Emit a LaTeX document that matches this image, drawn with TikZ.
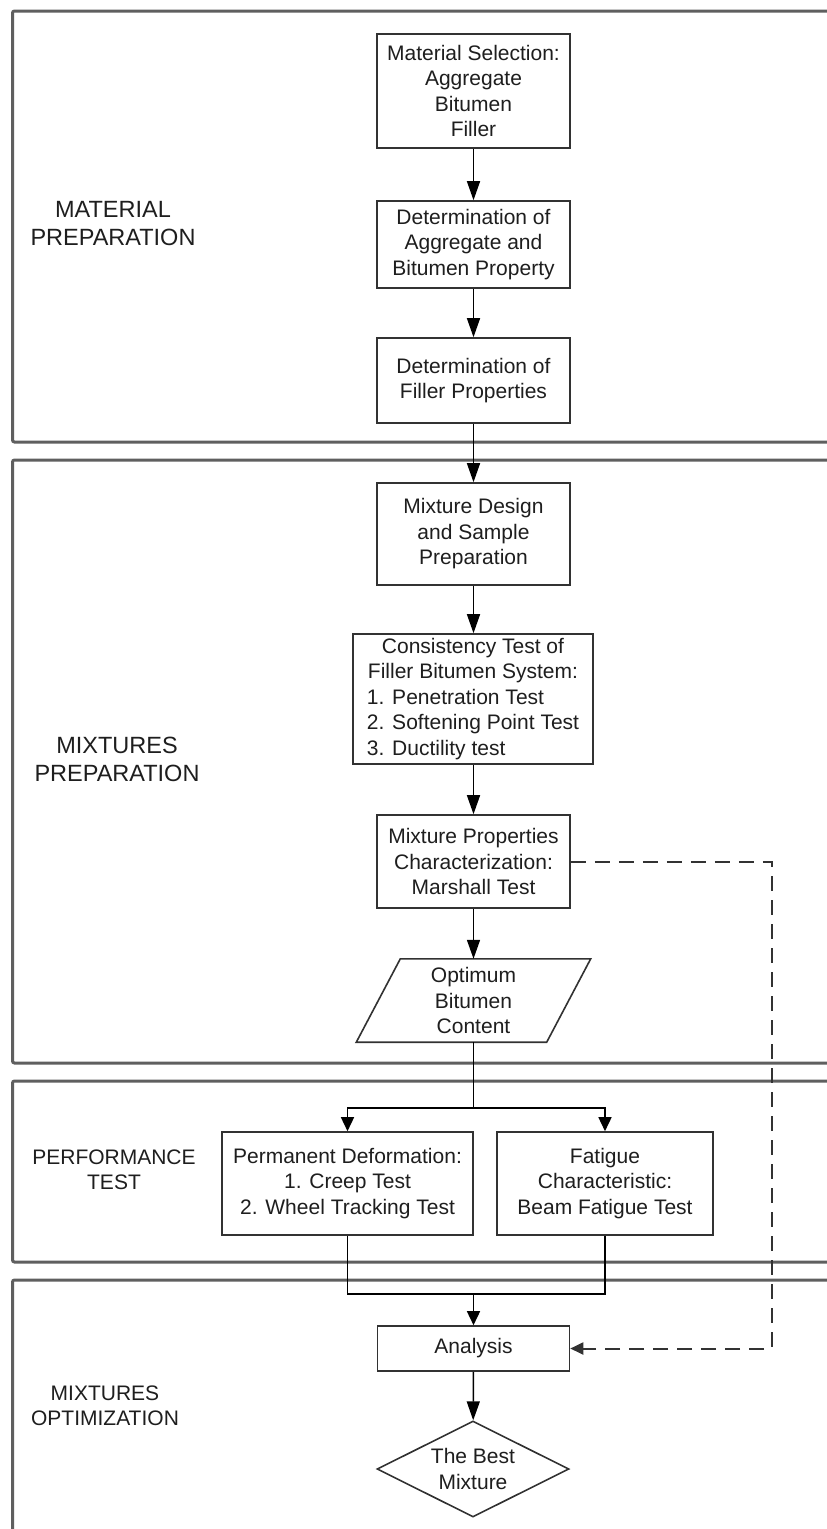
\documentclass[tikz,border=0pt]{standalone}
\usepackage{fontspec}
\setmainfont{Liberation Sans}
\usetikzlibrary{arrows.meta,shapes.geometric}
\definecolor{panelgray}{RGB}{95,95,95}
\definecolor{boxgray}{RGB}{50,50,50}
\definecolor{txt}{RGB}{30,30,30}
\begin{document}
\begin{tikzpicture}[x=1pt,y=-1pt,
  panel/.style={draw=panelgray, line width=3pt, rounded corners=2pt},
  box/.style={draw=boxgray, line width=1.6pt, fill=white, align=center, inner sep=0pt,
    text=txt, font=\fontsize{21}{25.5}\selectfont},
  ghost/.style={align=center, inner sep=0pt, text=txt, font=\fontsize{21}{25.5}\selectfont},
  biglbl/.style={align=center, inner sep=0pt, text=txt, font=\fontsize{23.5}{28}\selectfont},
  smalllbl/.style={align=center, inner sep=0pt, text=txt, font=\fontsize{21}{25}\selectfont},
  conn/.style={line width=1.5pt, draw=black},
  arr/.style={conn, -{Triangle[length=19pt,width=13pt]}},
  sarr/.style={conn, -{Triangle[length=14pt,width=13pt]}},
  dashline/.style={line width=2pt, draw=boxgray, dash pattern=on 15pt off 9pt, -{Triangle[length=13pt,width=12pt]}}
]
\useasboundingbox (0,0) rectangle (827,1529);
\clip (0,0) rectangle (827,1529);
\fill[white] (0,0) rectangle (827,1529);

% panels
\draw[panel] (12.5,11) rectangle (900,442);
\draw[panel] (12.5,460) rectangle (900,1063);
\draw[panel] (12.5,1081) rectangle (900,1262);
\draw[panel] (12.5,1280) rectangle (900,1600);

% panel labels
\node[biglbl] (l1) at (113,224) {MATERIAL\\PREPARATION};
\node[biglbl] (l2) at (117,759) {MIXTURES\\PREPARATION};
\node[smalllbl] (l3) at (114,1169.5) {PERFORMANCE\\TEST};
\node[smalllbl] (l4) at (105,1405.5) {MIXTURES\\OPTIMIZATION};

% nodes
\node[box, minimum width=193pt, minimum height=114pt] (b1) at (473.5,91) {Material Selection:\\Aggregate\\Bitumen\\Filler};
\node[box, minimum width=193pt, minimum height=87pt] (b2) at (473.5,244.5) {Determination of\\Aggregate and\\Bitumen Property};
\node[box, minimum width=193pt, minimum height=85pt] (b3) at (473.5,380.5) {Determination of\\Filler Properties};
\node[box, minimum width=193pt, minimum height=102pt] (b4) at (473.5,534) {Mixture Design\\and Sample\\Preparation};
\node[box, minimum width=240pt, minimum height=130pt] (b5) at (473,699) {\begin{tabular}{@{}l@{}}\multicolumn{1}{@{}c@{}}{Consistency Test of}\\\multicolumn{1}{@{}c@{}}{Filler Bitumen System:}\\1. Penetration Test\\2. Softening Point Test\\3. Ductility test\end{tabular}};
\node[box, minimum width=193pt, minimum height=93pt] (b6) at (473.5,861.5) {Mixture Properties\\Characterization:\\Marshall Test};
\node[ghost, minimum width=190pt, minimum height=83pt] (para) at (473.5,1000.5) {};
\draw[draw=boxgray, line width=1.6pt, fill=white] ([xshift=22pt]para.north west) -- ([xshift=22pt]para.north east) -- ([xshift=-22pt]para.south east) -- ([xshift=-22pt]para.south west) -- cycle;
\node[ghost] (paratext) at (para.center) {Optimum\\Bitumen\\Content};
\node[box, minimum width=251pt, minimum height=103pt] (b7) at (347.5,1183.5) {Permanent Deformation:\\1. Creep Test\\2. Wheel Tracking Test};
\node[box, minimum width=216pt, minimum height=103pt] (b8) at (605,1183.5) {Fatigue\\Characteristic:\\Beam Fatigue Test};
\node[box, minimum width=192pt, minimum height=45pt] (ana) at (473.5,1348.5) {Analysis};
\node[box, diamond, aspect=2, minimum width=192pt, minimum height=96pt] (best) at (473,1469) {The Best\\Mixture};

% helper coordinates
\coordinate (split) at (473.5,1108);
\coordinate (join) at (473.5,1294);
\coordinate (dcol) at (772,0);

% connectors
\draw[arr] (b1) -- (b2);
\draw[arr] (b2) -- (b3);
\draw[arr] (b3) -- (b4);
\draw[arr] (b4) -- (b5.north -| b4.south);
\draw[arr] (b5.south -| b4.south) -- (b6);
\draw[arr] (b6) -- (para.north);
\draw[conn] (para.south) -- (split);
\draw[sarr] (split) -| (b7.north);
\draw[sarr] (split) -| (b8.north);
\draw[conn] (b7.south) |- (join);
\draw[conn] (b8.south) |- (join);
\draw[sarr] (join) -- (ana.north);
\draw[arr] (ana) -- (best);
\draw[dashline] (b6.east) -- (b6.east -| dcol) |- (ana.east);
\end{tikzpicture}
\end{document}
